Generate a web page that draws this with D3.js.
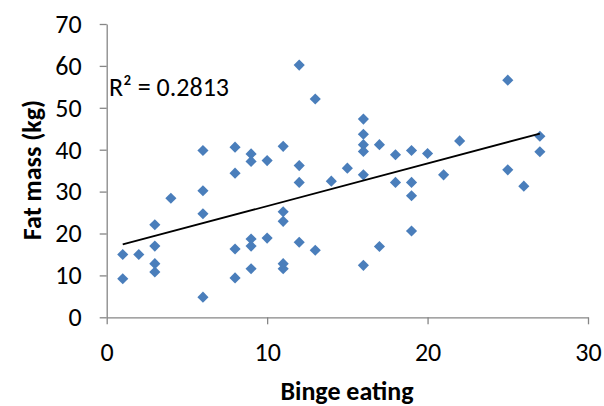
<!DOCTYPE html>
<html>
<head>
<meta charset="utf-8">
<script src="https://cdn.jsdelivr.net/npm/d3@7"></script>
<style>
  body { margin: 0; background: #fff; }
  svg text { font-family: Carlito, "Open Sans", sans-serif; fill: #000; }
  .axis path, .axis line { stroke: #868686; stroke-width: 1.3; }
</style>
</head>
<body>
<svg id="chart" width="604" height="406"></svg>
<script>
// данные
const bingeEating = [1, 1, 2, 3, 3, 3, 3, 4, 6, 6, 6, 6, 8, 8, 8, 8, 9, 9, 9, 9, 9, 10, 10,
  11, 11, 11, 11, 11, 12, 12, 12, 12, 13, 13, 14, 15, 16, 16, 16, 16, 16, 16, 17, 17,
  18, 18, 19, 19, 19, 19, 20, 21, 22, 25, 25, 26, 27, 27];
const fatMass = [15.0, 9.2, 15.0, 22.1, 17.0, 12.8, 10.8, 28.4, 39.8, 30.2, 24.7, 4.8,
  40.6, 34.4, 16.3, 9.4, 39.0, 37.2, 18.7, 17.0, 11.6, 37.4, 18.9,
  40.8, 25.2, 22.9, 12.8, 11.6, 60.2, 36.2, 32.2, 17.9, 52.1, 16.0, 32.5, 35.6,
  47.3, 43.7, 41.2, 39.6, 34.0, 12.4, 41.2, 16.9,
  38.8, 32.2, 39.8, 32.2, 29.0, 20.6, 39.1, 34.0, 42.1, 56.6, 35.2, 31.3, 43.2, 39.5];
const xTicks = [0, 10, 20, 30];
const yTicks = [0, 10, 20, 30, 40, 50, 60, 70];
const rSquaredLabel = 'R² = 0.2813';

const svg = d3.select('#chart');

const x = d3.scaleLinear().domain([0, 30]).range([106.7, 588]);
const y = d3.scaleLinear().domain([0, 70]).range([317.3, 24]);

// оси
svg.append('g')
    .attr('class', 'axis')
    .attr('transform', 'translate(0,' + y(0) + ')')
    .call(d3.axisBottom(x).tickValues(xTicks).tickSizeInner(7).tickSizeOuter(0).tickPadding(18))
    .call(g => g.selectAll('text').attr('font-size', 26));

svg.append('g')
    .attr('class', 'axis')
    .attr('transform', 'translate(' + x(0) + ',0)')
    .call(d3.axisLeft(y).tickValues(yTicks).tickSizeInner(7).tickSizeOuter(0).tickPadding(18))
    .call(g => g.selectAll('text').attr('font-size', 26));

// линия тренда (МНК)
const pts = bingeEating.map((d, i) => [d, fatMass[i]]);
const mx = d3.mean(bingeEating);
const my = d3.mean(fatMass);
const slope = d3.sum(pts, p => (p[0] - mx) * (p[1] - my)) / d3.sum(pts, p => (p[0] - mx) ** 2);
const icpt = my - slope * mx;
const [xMin, xMax] = d3.extent(bingeEating);

svg.append('g').selectAll('path')
    .data(pts)
    .enter()
    .append('path')
    .attr('d', d3.symbol(d3.symbolSquare, 62))
    .attr('transform', d => 'translate(' + x(d[0]) + ',' + y(d[1]) + ') rotate(45)')
    .attr('fill', '#4a7ebb');

svg.append('line')
    .attr('x1', x(xMin)).attr('y1', y(icpt + slope * xMin))
    .attr('x2', x(xMax)).attr('y2', y(icpt + slope * xMax))
    .attr('stroke', '#000')
    .attr('stroke-width', 1.8);

svg.append('text')
    .attr('x', 109)
    .attr('y', 96)
    .attr('font-size', 26)
    .text(rSquaredLabel);

// подписи осей
svg.append('text')
    .attr('x', 347)
    .attr('y', 400)
    .attr('text-anchor', 'middle')
    .attr('font-size', 26)
    .attr('font-weight', 'bold')
    .text('Binge eating');

svg.append('text')
    .attr('transform', 'translate(41,170) rotate(-90)')
    .attr('text-anchor', 'middle')
    .attr('font-size', 26)
    .attr('font-weight', 'bold')
    .text('Fat mass (kg)');
</script>
</body>
</html>
